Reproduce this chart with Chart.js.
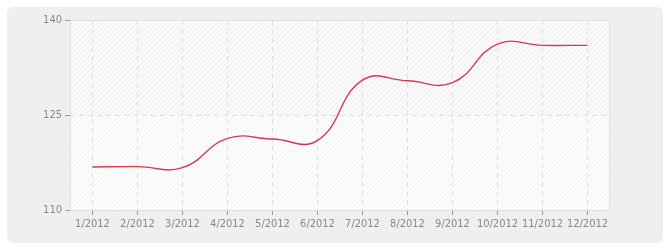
<!DOCTYPE html>
<html>
<head>
<meta charset="utf-8">
<script src="https://cdn.jsdelivr.net/npm/chart.js@4/dist/chart.umd.min.js"></script>
<style>
  html, body { margin: 0; padding: 0; background: #ffffff; }
  #wrap { width: 670px; height: 250px; }
</style>
</head>
<body>
<div id="wrap"><canvas id="c" width="670" height="250"></canvas></div>
<script>
const categories = ['1/2012','2/2012','3/2012','4/2012','5/2012','6/2012','7/2012','8/2012','9/2012','10/2012','11/2012','12/2012'];
const seriesValues = [116.8, 116.85, 116.7, 121.3, 121.2, 121.0, 130.5, 130.4, 130.1, 136.2, 136.0, 136.0];
const yTicks = [110, 125, 140];

function makePattern(ctx, bg, stripe) {
  const size = 5;
  const c = document.createElement('canvas');
  c.width = size; c.height = size;
  const g = c.getContext('2d');
  g.fillStyle = bg; g.fillRect(0, 0, size, size);
  g.fillStyle = stripe;
  for (let i = 0; i < size; i++) g.fillRect(i, size - 1 - i, 1, 1);
  return ctx.createPattern(c, 'repeat');
}

const backgroundPlugin = {
  id: 'bg',
  beforeDraw(chart) {
    const ctx = chart.ctx;
    const {left, right, top, bottom} = chart.chartArea;
    const y = chart.scales.y;
    ctx.save();
    ctx.fillStyle = '#efefef';
    ctx.beginPath();
    ctx.roundRect(7, 7, 656, 236, 6);
    ctx.fill();
    const mid = y.getPixelForValue(125);
    ctx.fillStyle = makePattern(ctx, '#fafafa', '#ececec');
    ctx.fillRect(left, top, right - left, mid - top);
    ctx.fillStyle = makePattern(ctx, '#fcfcfc', '#f3f3f3');
    ctx.fillRect(left, mid, right - left, bottom - mid);
    ctx.strokeStyle = '#e2e2e2';
    ctx.lineWidth = 1;
    ctx.strokeRect(left + 0.5, top + 0.5, right - left - 1, bottom - top);
    ctx.restore();
  }
};

new Chart(document.getElementById('c'), {
  type: 'line',
  data: {
    labels: categories,
    datasets: [{
      data: seriesValues,
      borderColor: '#d73a50',
      borderWidth: 1.4,
      pointRadius: 0,
      tension: 0.45,
      fill: false
    }]
  },
  options: {
    responsive: false,
    animation: false,
    devicePixelRatio: 1,
    layout: { padding: { top: 20, right: 60, left: 0, bottom: 0 } },
    plugins: { legend: { display: false }, tooltip: { enabled: false } },
    scales: {
      x: {
        offset: true,
        grid: { offset: false, color: '#e0e0e0', tickColor: '#999999', tickLength: 5, tickBorderDash: [] },
        border: { display: false, dash: [5, 4] },
        ticks: { color: '#888888', font: { family: 'DejaVu Sans Condensed, DejaVu Sans', size: 11 }, padding: 3, maxRotation: 0, autoSkip: false },
        afterFit(scale) { scale.height = 40; }
      },
      y: {
        min: 110, max: 140,
        afterBuildTicks(scale) { scale.ticks = yTicks.map(v => ({ value: v })); },
        grid: { color: '#e0e0e0', tickColor: '#999999', tickLength: 5, tickBorderDash: [] },
        border: { display: false, dash: [5, 4] },
        ticks: { color: '#888888', font: { family: 'DejaVu Sans Condensed, DejaVu Sans', size: 11 }, padding: 3 },
        afterFit(scale) { scale.width = 70; }
      }
    }
  },
  plugins: [backgroundPlugin]
});
</script>
</body>
</html>
